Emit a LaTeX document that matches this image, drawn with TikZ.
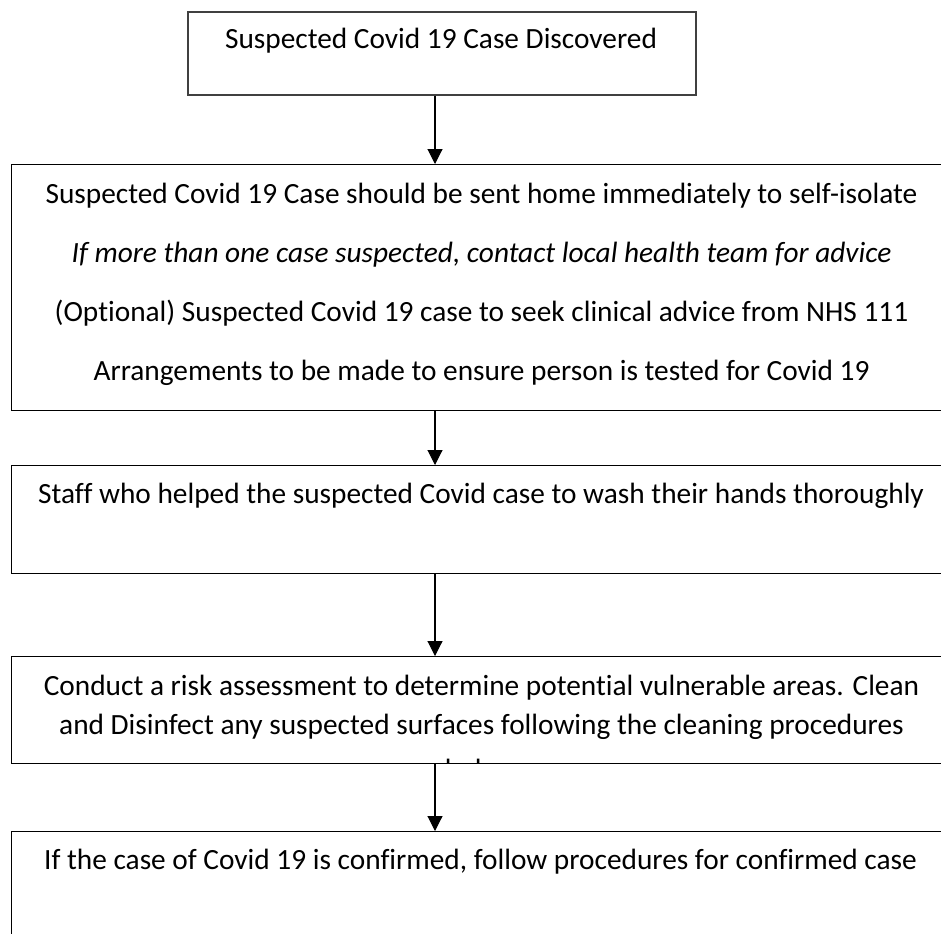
\documentclass[tikz,border=0pt]{standalone}
\usepackage{fontspec}
\setmainfont{Carlito}[Ligatures=NoCommon]
\usetikzlibrary{arrows.meta}
\begin{document}
\begin{tikzpicture}[x=0.75pt,y=-0.75pt,
  box/.style={draw=black, line width=0.8pt, inner sep=0pt, anchor=north west},
  topbox/.style={draw=black!75, line width=1.2pt, inner sep=0pt, anchor=north west},
  txt/.style={anchor=base, inner sep=0pt, font=\fontsize{22}{26}\selectfont},
  arr/.style={line width=0.8pt, -{Triangle[width=11.25pt,length=11.25pt]}}]
\useasboundingbox (0,0) rectangle (941,933);
\clip (0,0) rectangle (941,933);
% boxes
\node[topbox, minimum width=381pt, minimum height=62.25pt] (b1) at (187,11) {};
\node[box, minimum width=705.75pt, minimum height=184.5pt] (b2) at (11,164) {};
\node[box, minimum width=705.75pt, minimum height=81pt] (b3) at (11,465) {};
\node[box, minimum width=705.75pt, minimum height=80.25pt] (b4) at (11,656) {};
\node[box, minimum width=705.75pt, minimum height=90pt] (b5) at (11,831) {};
% texts
\node[txt] (t1) at (441,48) {Suspected Covid 19 Case Discovered};
\node[txt] (t2a) at (481.5,203) {Suspected Covid 19 Case should be sent home immediately to self-isolate};
\node[txt] (t2b) at (481.5,262) {\itshape If more than one case suspected, contact local health team for advice};
\node[txt] (t2c) at (481.5,321) {(Optional) Suspected Covid 19 case to seek clinical advice from NHS 111};
\node[txt] (t2d) at (481.5,380) {Arrangements to be made to ensure person is tested for Covid 19};
\node[txt] (t3) at (481,503) {Staff who helped the suspected Covid case to wash their hands thoroughly};
\node[txt] (t4a) at (481.5,695) {Conduct a risk assessment to determine potential vulnerable areas. Clean};
\node[txt] (t4b) at (481.5,734) {and Disinfect any suspected surfaces following the cleaning procedures};
\begin{scope}
\clip (11,656) rectangle (952,762);
\node[txt] (t4c) at (481.5,779) {below};
\end{scope}
\node[txt] (t5) at (480.5,869) {If the case of Covid 19 is confirmed, follow procedures for confirmed case};
% arrows
\coordinate (ax) at (435,0);
\draw[arr] (b1.south -| ax) -- (b2.north -| ax);
\draw[arr] (b2.south -| ax) -- (b3.north -| ax);
\draw[arr] (b3.south -| ax) -- (b4.north -| ax);
\draw[arr] (b4.south -| ax) -- (b5.north -| ax);
\end{tikzpicture}
\end{document}
